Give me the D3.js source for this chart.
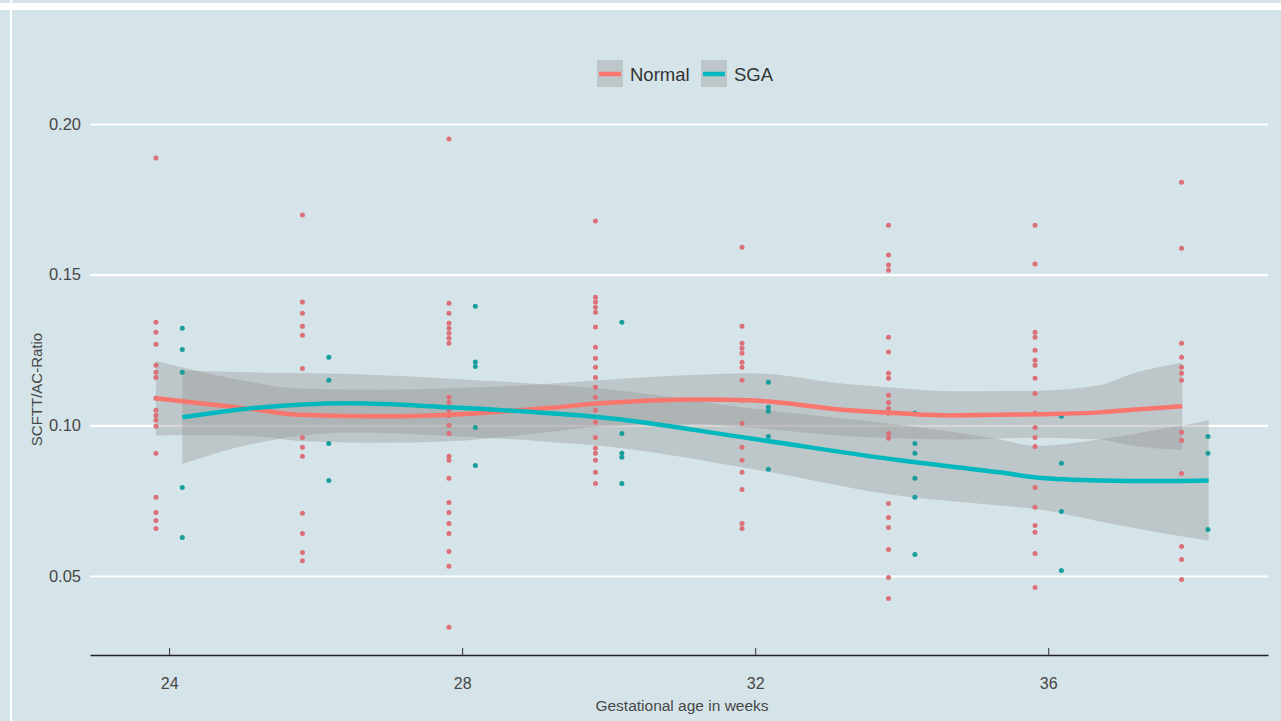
<!DOCTYPE html>
<html>
<head>
<meta charset="utf-8">
<script src="https://cdn.jsdelivr.net/npm/d3@7"></script>
<style>
    html, body { margin: 0; padding: 0; background: #d5e4e8; }
    svg { display: block; }
    .chart text { font-family: 'Liberation Sans', Arial, sans-serif; }
</style>
</head>
<body>
<svg id="chart" class="chart"></svg>
<script>
// measured values, one list per gestational week
const weeks = [24, 26, 28, 30, 32, 34, 36, 38]

const normalValues = [
    [0.1887, 0.1342, 0.1309, 0.1269, 0.1199, 0.1176, 0.1159, 0.1090, 0.1050, 0.1033, 0.1017, 0.0997, 0.0907, 0.0761, 0.0711, 0.0684, 0.0658],
    [0.1698, 0.1409, 0.1372, 0.1329, 0.1299, 0.1189, 0.0960, 0.0927, 0.0897, 0.0708, 0.0641, 0.0578, 0.0551],
    [0.1950, 0.1405, 0.1372, 0.1339, 0.1322, 0.1306, 0.1289, 0.1272, 0.1093, 0.1076, 0.1050, 0.1033, 0.1000, 0.0973, 0.0897, 0.0884, 0.0824, 0.0744, 0.0711, 0.0674, 0.0641, 0.0581, 0.0532, 0.0330],
    [0.1678, 0.1425, 0.1409, 0.1392, 0.1375, 0.1326, 0.1259, 0.1223, 0.1193, 0.1159, 0.1126, 0.1093, 0.1050, 0.1010, 0.0960, 0.0924, 0.0907, 0.0884, 0.0844, 0.0807],
    [0.1591, 0.1329, 0.1272, 0.1256, 0.1239, 0.1209, 0.1193, 0.1150, 0.1083, 0.1007, 0.0927, 0.0884, 0.0844, 0.0787, 0.0674, 0.0658],
    [0.1664, 0.1565, 0.1532, 0.1515, 0.1292, 0.1243, 0.1173, 0.1156, 0.1100, 0.1076, 0.1056, 0.1040, 0.0973, 0.0957, 0.0741, 0.0694, 0.0661, 0.0588, 0.0495, 0.0425],
    [0.1664, 0.1535, 0.1309, 0.1292, 0.1249, 0.1216, 0.1199, 0.1156, 0.1106, 0.1040, 0.0993, 0.0960, 0.0930, 0.0794, 0.0728, 0.0668, 0.0645, 0.0575, 0.0462],
    [0.1807, 0.1588, 0.1272, 0.1226, 0.1193, 0.1173, 0.1150, 0.0977, 0.0950, 0.0840, 0.0598, 0.0555, 0.0488],
]

const sgaValues = [
    [0.1322, 0.1252, 0.1176, 0.0794, 0.0628],
    [0.1226, 0.1150, 0.0940, 0.0817],
    [0.1395, 0.1210, 0.1195, 0.0993, 0.0867],
    [0.1342, 0.0973, 0.0907, 0.0894, 0.0807],
    [0.1143, 0.1060, 0.1047, 0.0963, 0.0854],
    [0.1040, 0.0940, 0.0907, 0.0824, 0.0761, 0.0571],
    [0.1030, 0.0874, 0.0714, 0.0518],
    [0.0963, 0.0907, 0.0654],
]

// smoothed fits (x in weeks, already dodged)
const normalFitWeeks = [23.82, 24.42, 25.10, 25.78, 26.88, 27.83, 29.19, 29.88, 31.24, 31.92, 33.29, 33.97, 34.65, 35.84, 36.70, 37.15, 37.83]
const normalFit = [0.1090, 0.1073, 0.1055, 0.1035, 0.1030, 0.1035, 0.1058, 0.1073, 0.1086, 0.1083, 0.1050, 0.1040, 0.1033, 0.1037, 0.1043, 0.1052, 0.1063]
const normalSe = [0.0124, 0.0105, 0.0090, 0.0087, 0.0088, 0.0088, 0.0080, 0.0077, 0.0082, 0.0090, 0.0086, 0.0083, 0.0080, 0.0078, 0.0090, 0.0120, 0.0145]

const sgaFitWeeks = [24.18, 25.10, 26.47, 27.83, 29.19, 29.88, 31.92, 33.97, 35.33, 35.84, 36.70, 37.49, 38.19]
const sgaFit = [0.1027, 0.1056, 0.1073, 0.1060, 0.1040, 0.1027, 0.0957, 0.0884, 0.0844, 0.0827, 0.0817, 0.0815, 0.0817]
const sgaSe = [0.0155, 0.0120, 0.0097, 0.0095, 0.0095, 0.0095, 0.0100, 0.0118, 0.0110, 0.0105, 0.0136, 0.0170, 0.0200]

const xTicks = [24, 28, 32, 36]
const yTicks = [0.05, 0.10, 0.15, 0.20]

const WIDTH = 1281
const HEIGHT = 721
const DODGE = 0.18

const COLORS = {
    normal: '#f8766d',
    sga: '#00b8bd',
    normalDot: '#dc7078',
    sgaDot: '#1a9e9c',
    text: '#474747',
}

const svg = d3.select('#chart')
    .attr('width', WIDTH)
    .attr('height', HEIGHT)
    .attr('viewBox', `0 0 ${WIDTH} ${HEIGHT}`)

// background and the white frame bits
svg.append('rect').attr('width', WIDTH).attr('height', HEIGHT).attr('fill', '#d5e4e8')
svg.append('rect').attr('x', 0).attr('y', 3).attr('width', WIDTH).attr('height', 7).attr('fill', '#ffffff')
svg.append('rect').attr('x', 10).attr('y', 0).attr('width', 2).attr('height', HEIGHT).attr('fill', '#ffffff')

const xScale = d3.scaleLinear().domain([22.92, 39.0]).range([90, 1268])
const yScale = d3.scaleLinear().domain([0.05, 0.20]).range([576, 124])
const axisY = 655

// gridlines
const grid = svg.append('g')
    .attr('transform', `translate(${xScale.range()[0]},0)`)
    .call(d3.axisLeft(yScale).tickValues(yTicks).tickSize(-(xScale.range()[1] - xScale.range()[0])).tickFormat(''))
grid.select('.domain').remove()
grid.selectAll('line').attr('stroke', '#ffffff').attr('stroke-width', 2.2)

// y tick labels
const yAxisGroup = svg.append('g')
    .attr('transform', 'translate(81,0)')
    .call(d3.axisLeft(yScale).tickValues(yTicks).tickSize(0).tickPadding(0).tickFormat(d3.format('.2f')))
yAxisGroup.select('.domain').remove()
yAxisGroup.selectAll('text')
    .attr('fill', COLORS.text)
    .style('font-size', '16.5px')

// confidence bands
function band(fitWeeks, fit, se) {
    const rows = fitWeeks.map((w, i) => ({ w, lo: fit[i] - se[i], hi: fit[i] + se[i] }))
    return d3.area()
        .curve(d3.curveMonotoneX)
        .x(d => xScale(d.w))
        .y0(d => yScale(d.lo))
        .y1(d => yScale(d.hi))(rows)
}

svg.append('path')
    .attr('d', band(normalFitWeeks, normalFit, normalSe))
    .attr('fill', '#999999')
    .attr('fill-opacity', 0.4)
svg.append('path')
    .attr('d', band(sgaFitWeeks, sgaFit, sgaSe))
    .attr('fill', '#999999')
    .attr('fill-opacity', 0.4)

// points
function points(values, offset, color) {
    const rows = []
    values.forEach((list, i) => list.forEach(v => rows.push({ w: weeks[i] + offset, v })))
    svg.append('g').selectAll('circle')
        .data(rows)
        .join('circle')
        .attr('cx', d => xScale(d.w))
        .attr('cy', d => yScale(d.v))
        .attr('r', 2.5)
        .attr('fill', color)
}

points(normalValues, -DODGE, COLORS.normalDot)
points(sgaValues, DODGE, COLORS.sgaDot)

// smooth lines
function fitLine(fitWeeks, fit) {
    return d3.line()
        .curve(d3.curveMonotoneX)
        .x((d, i) => xScale(fitWeeks[i]))
        .y(d => yScale(d))(fit)
}

svg.append('path')
    .attr('d', fitLine(normalFitWeeks, normalFit))
    .attr('fill', 'none')
    .attr('stroke', COLORS.normal)
    .attr('stroke-width', 4.5)
svg.append('path')
    .attr('d', fitLine(sgaFitWeeks, sgaFit))
    .attr('fill', 'none')
    .attr('stroke', COLORS.sga)
    .attr('stroke-width', 4.5)

// x axis
const xAxisGroup = svg.append('g')
    .attr('transform', `translate(0,${axisY})`)
    .call(d3.axisBottom(xScale).tickValues(xTicks).tickSizeInner(-7).tickSizeOuter(0).tickPadding(23).tickFormat(d3.format('d')))
xAxisGroup.select('.domain').attr('stroke', '#222').attr('stroke-width', 1.6)
xAxisGroup.selectAll('.tick line').attr('stroke', '#333').attr('stroke-width', 1)
xAxisGroup.selectAll('text')
    .attr('fill', COLORS.text)
    .style('font-size', '16px')

// axis titles
svg.append('text')
    .attr('x', 682)
    .attr('y', 711)
    .attr('text-anchor', 'middle')
    .attr('fill', COLORS.text)
    .style('font-size', '15.5px')
    .text('Gestational age in weeks')

svg.append('text')
    .attr('transform', `translate(42,${(yScale.range()[1] + axisY) / 2}) rotate(-90)`)
    .attr('text-anchor', 'middle')
    .attr('fill', COLORS.text)
    .style('font-size', '15px')
    .text('SCFTT/AC-Ratio')

// legend
const legendItems = [
    { label: 'Normal', color: COLORS.normal, x: 597 },
    { label: 'SGA', color: COLORS.sga, x: 701 },
]
const legend = svg.append('g').attr('transform', 'translate(0,60)')
legendItems.forEach(item => {
    legend.append('rect')
        .attr('x', item.x).attr('y', 0)
        .attr('width', 26).attr('height', 27)
        .attr('fill', '#999999').attr('fill-opacity', 0.4)
    legend.append('line')
        .attr('x1', item.x + 2).attr('x2', item.x + 24)
        .attr('y1', 14).attr('y2', 14)
        .attr('stroke', item.color).attr('stroke-width', 4.5)
    legend.append('text')
        .attr('x', item.x + 33).attr('y', 21)
        .attr('fill', '#333333')
        .style('font-size', '18.5px')
        .text(item.label)
})
</script>
</body>
</html>
